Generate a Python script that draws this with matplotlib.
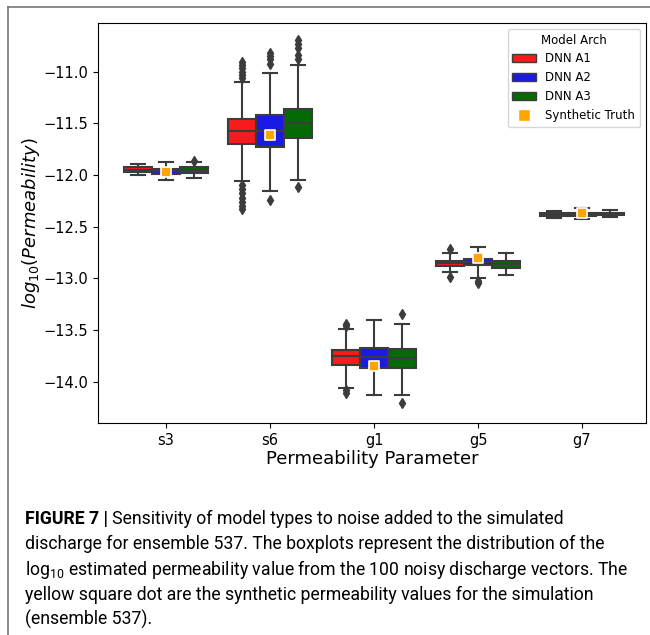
import matplotlib
matplotlib.use("Agg")
from matplotlib import pyplot as plt
from matplotlib.patches import Patch
from matplotlib.lines import Line2D

categories = ["s3", "s6", "g1", "g5", "g7"]
models = ["DNN A1", "DNN A2", "DNN A3"]
colors = ["#f81b1b", "#1a1ae4", "#046a04"]

# box statistics, one list per model (order = categories)
q1 = [[-11.975, -11.706, -13.84, -12.88, -12.395],
      [-11.99, -11.735, -13.865, -12.875, -12.40],
      [-11.98, -11.64, -13.865, -12.90, -12.39]]
med = [[-11.95, -11.58, -13.75, -12.855, -12.38],
       [-11.965, -11.58, -13.76, -12.845, -12.385],
       [-11.95, -11.50, -13.77, -12.865, -12.378]]
q3 = [[-11.925, -11.464, -13.69, -12.83, -12.37],
      [-11.94, -11.416, -13.67, -12.81, -12.365],
      [-11.925, -11.36, -13.68, -12.83, -12.365]]
whislo = [[-12.00, -12.064, -14.06, -12.94, -12.42],
          [-12.05, -12.16, -14.13, -13.0, -12.43],
          [-12.03, -12.05, -14.13, -12.97, -12.41]]
whishi = [[-11.89, -11.106, -13.49, -12.76, -12.35],
          [-11.88, -11.01, -13.405, -12.70, -12.32],
          [-11.88, -10.94, -13.44, -12.76, -12.34]]
fliers = [
    [[], [-10.91, -10.94, -10.97, -11.00, -11.03, -11.06, -12.10, -12.14, -12.18, -12.22, -12.26, -12.30, -12.33],
     [-13.44, -13.46, -14.08, -14.11], [-12.72, -12.99], []],
    [[], [-10.82, -10.85, -10.88, -10.93, -12.24], [], [-13.03, -13.05], []],
    [[-11.87], [-10.70, -10.73, -10.77, -10.84, -10.88, -12.12], [-13.35, -14.21], [], []],
]
truth = [-11.97, -11.61, -13.85, -12.80, -12.37]

fig = plt.figure(figsize=(6.5, 6.35), dpi=100)
ax = fig.add_axes([0.1508, 0.3339, 0.843, 0.630])

gray = "#3c3c3c"
width = 0.8 / 3
for m in range(3):
    stats = []
    for c in range(len(categories)):
        stats.append(dict(q1=q1[m][c], med=med[m][c], q3=q3[m][c],
                          whislo=whislo[m][c], whishi=whishi[m][c],
                          fliers=fliers[m][c]))
    pos = [c + (m - 1) * width for c in range(len(categories))]
    ax.bxp(stats, positions=pos, widths=width, patch_artist=True,
           boxprops=dict(facecolor=colors[m], edgecolor=gray, linewidth=1.5),
           medianprops=dict(color=gray, linewidth=1.5),
           whiskerprops=dict(color=gray, linewidth=1.5),
           capprops=dict(color=gray, linewidth=1.5),
           flierprops=dict(marker="d", markerfacecolor=gray, markeredgecolor=gray,
                           markersize=5),
           capwidths=width / 2, manage_ticks=False)

ax.scatter(range(len(categories)), truth, marker="s", s=60, color="orange",
           edgecolor="white", linewidth=1.2, zorder=5)

ax.set_xticks(range(len(categories)))
ax.set_xticklabels(categories)
ax.set_xlim(-0.654, 4.615)
ax.set_ylim(-14.40, -10.53)
ax.set_yticks([-11.0, -11.5, -12.0, -12.5, -13.0, -13.5, -14.0])
ax.tick_params(labelsize=10.5)
ax.set_xlabel("Permeability Parameter", fontsize=13, labelpad=2)
ax.set_ylabel(r"$log_{10}(Permeability)$", fontsize=13, labelpad=1)

handles = [Patch(facecolor=colors[i], edgecolor=gray, label=models[i]) for i in range(3)]
handles.append(Line2D([], [], marker="s", linestyle="", color="orange",
                      markeredgecolor="white", markersize=8, label="Synthetic Truth"))
ax.legend(handles=handles, title="Model Arch", loc="upper right", fontsize=8.5,
          title_fontsize=8.5)

# page frame of the screenshot
fig.add_artist(Line2D([8 / 650, 8 / 650], [0, 1 - 7 / 635], color="#777777", lw=1.2,
                      transform=fig.transFigure))
fig.add_artist(Line2D([8 / 650, 1], [1 - 7 / 635, 1 - 7 / 635], color="#777777", lw=1.2,
                      transform=fig.transFigure))

# caption
cap_font = "Roboto"
cap_size = 12.7
lines = ["discharge for ensemble 537. The boxplots represent the distribution of the",
         r"log$_\mathregular{10}$ estimated permeability value from the 100 noisy discharge vectors. The",
         "yellow square dot are the synthetic permeability values for the simulation",
         "(ensemble 537)."]
x0 = 25 / 650
t = fig.text(x0, 1 - 519 / 635, "FIGURE 7 | ", fontsize=cap_size, family=cap_font,
             weight="bold", va="center")
r = fig.canvas.get_renderer()
bb = t.get_window_extent(renderer=r)
fig.text(bb.x1 / fig.bbox.width, 1 - 519 / 635,
         "Sensitivity of model types to noise added to the simulated",
         fontsize=cap_size, family=cap_font, va="center")
for i, line in enumerate(lines):
    fig.text(x0, 1 - (544 + 25.3 * i) / 635, line, fontsize=cap_size, family=cap_font,
             va="center")

fig.savefig("out.png", dpi=100)
